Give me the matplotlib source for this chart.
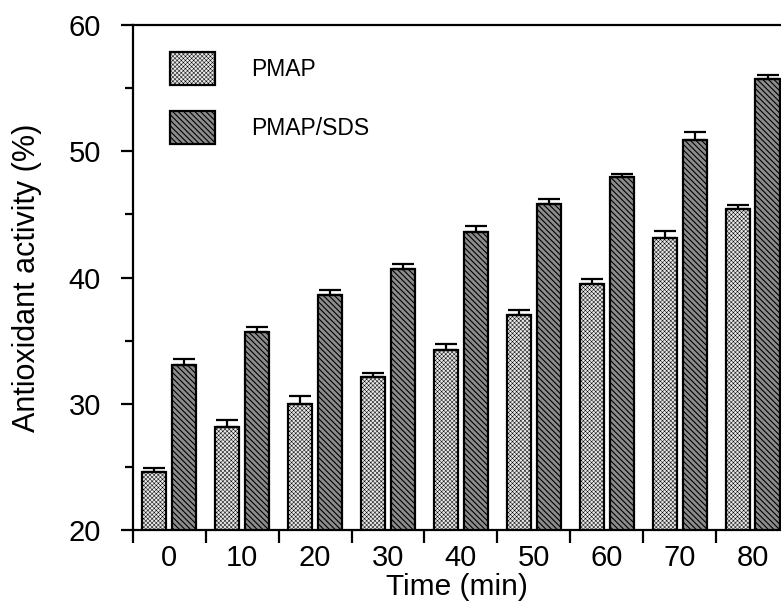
import matplotlib
matplotlib.use("Agg")
import matplotlib.pyplot as plt
import numpy as np

plt.rcParams["font.family"] = ["Liberation Sans", "DejaVu Sans"]
plt.rcParams["hatch.linewidth"] = 0.8

times = [0, 10, 20, 30, 40, 50, 60, 70, 80]
pmap = [24.6, 28.2, 30.0, 32.1, 34.3, 37.0, 39.5, 43.1, 45.4]
pmap_err = [0.3, 0.5, 0.6, 0.35, 0.4, 0.4, 0.4, 0.55, 0.35]
pmap_sds = [33.1, 35.7, 38.6, 40.7, 43.6, 45.8, 48.0, 50.9, 55.7]
pmap_sds_err = [0.45, 0.4, 0.45, 0.4, 0.5, 0.4, 0.2, 0.65, 0.35]

x = np.arange(len(times))
w = 0.33

fig = plt.figure(figsize=(7.81, 6.10), dpi=100)
ax = fig.add_axes([0.170, 0.131, 0.830, 0.828])

ebar = dict(ecolor="black", elinewidth=1.6, capsize=8, capthick=1.6)
b1 = ax.bar(x - 0.205, pmap, w, yerr=[np.zeros(len(pmap)), pmap_err],
            facecolor="#e8e8e8", edgecolor="black", linewidth=1.6,
            hatch="xxxxxxxx", error_kw=ebar, label="PMAP", zorder=2)
b2 = ax.bar(x + 0.205, pmap_sds, w, yerr=[np.zeros(len(pmap_sds)), pmap_sds_err],
            facecolor="#8c8c8c", edgecolor="black", linewidth=1.6,
            hatch="\\\\\\\\\\\\", error_kw=ebar, label="PMAP/SDS", zorder=2)


def thin_hatch(patches):
    # lighter stipple for the PMAP bars, if this matplotlib supports it
    for p in patches:
        if hasattr(p, "set_hatch_linewidth"):
            p.set_hatch_linewidth(0.35)


thin_hatch(b1.patches)

ax.set_ylim(20, 60)
ax.set_xlim(-0.5, 8.39)
ax.set_yticks([20, 30, 40, 50, 60])
ax.set_yticks(np.arange(25, 60, 10), minor=True)
ax.set_xticks(np.arange(-0.5, 8.5, 1))
ax.set_xticklabels([])
ax.set_xticks(x, [str(t) for t in times], minor=True)
ax.tick_params(axis="x", which="minor", length=0, labelsize=21, pad=10)
ax.tick_params(axis="x", which="major", length=9, width=1.6, direction="out")
ax.tick_params(axis="y", which="major", length=9, width=1.6, labelsize=21, pad=14)
ax.tick_params(axis="y", which="minor", length=5.5, width=1.6)

for s in ["left", "bottom", "top"]:
    ax.spines[s].set_linewidth(1.6)
ax.spines["right"].set_visible(False)

ax.set_xlabel("Time (min)", fontsize=21.5, labelpad=1)
ax.set_ylabel("Antioxidant activity (%)", fontsize=22, labelpad=19)

leg = ax.legend(loc="upper left", bbox_to_anchor=(0.057, 0.947), frameon=False,
                fontsize=16.5, handlelength=1.96, handleheight=1.83,
                handletextpad=1.6, labelspacing=1.15, borderpad=0, borderaxespad=0)
thin_hatch(leg.get_patches()[:1])

fig.savefig("out.png", dpi=100)
